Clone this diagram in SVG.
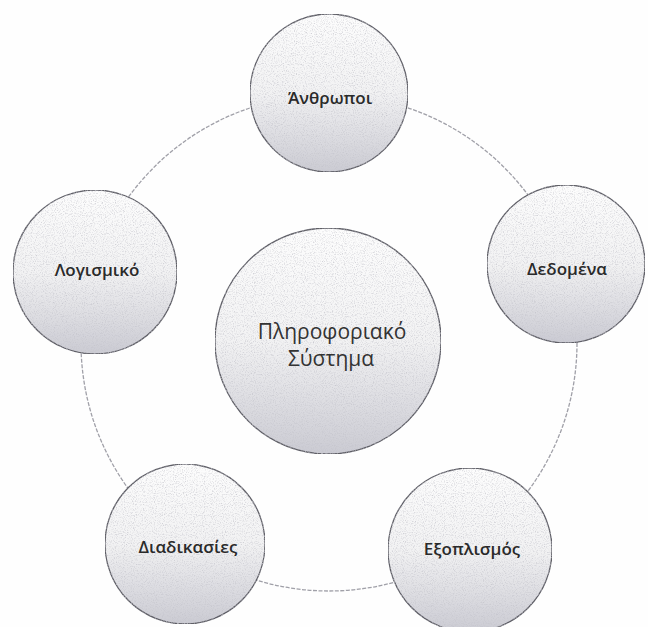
<svg xmlns="http://www.w3.org/2000/svg" width="648" height="627" viewBox="0 0 648 627">
<defs>
<linearGradient id="g" x1="0" y1="0" x2="0" y2="1">
<stop offset="0" stop-color="#fdfdfd"/>
<stop offset="0.5" stop-color="#f2f2f3"/>
<stop offset="1" stop-color="#cbcbd3"/>
</linearGradient>
<filter id="grain" x="0" y="0" width="100%" height="100%">
<feTurbulence type="fractalNoise" baseFrequency="0.9" numOctaves="2" seed="3" result="n"/>
<feColorMatrix in="n" type="matrix" values="0 0 0 0 0.55  0 0 0 0 0.55  0 0 0 0 0.6  0 0 0 -2 1.05" result="m"/>
<feComposite in="m" in2="SourceGraphic" operator="in" result="c"/>
<feMerge><feMergeNode in="SourceGraphic"/><feMergeNode in="c"/></feMerge>
</filter>
</defs>
<style>
.node{fill:url(#g);stroke:#5e5e66;stroke-width:1.3;filter:url(#grain)}
.lbl{font-family:"Open Sans","DejaVu Sans",sans-serif;font-size:17px;fill:#2a2a2a;text-anchor:middle;font-weight:600}
.ctr{font-family:"Open Sans","DejaVu Sans",sans-serif;font-size:21px;fill:#333;text-anchor:middle}
.ring{fill:none;stroke:#a0a0a8;stroke-width:1.3;stroke-dasharray:4 1.5}
</style>
<rect width="648" height="627" fill="#fefefe"/>
<g id="connectors">
<circle class="ring" cx="329" cy="343" r="248"/>
</g>
<g id="center">
<circle class="node" cx="328" cy="341" r="113"/>
<text class="ctr" x="332" y="339">Πληροφοριακό</text>
<text class="ctr" x="331" y="366">Σύστημα</text>
</g>
<g id="anthropoi">
<circle class="node" cx="329" cy="93" r="79"/>
<text class="lbl" x="330" y="104">Άνθρωποι</text>
</g>
<g id="dedomena">
<circle class="node" cx="566" cy="264" r="79"/>
<text class="lbl" x="567" y="275">Δεδομένα</text>
</g>
<g id="logismiko">
<circle class="node" cx="95" cy="272" r="82"/>
<text class="lbl" x="97" y="276">Λογισμικό</text>
</g>
<g id="diadikasies">
<circle class="node" cx="185" cy="544" r="80"/>
<text class="lbl" x="188" y="553">Διαδικασίες</text>
</g>
<g id="exoplismos">
<circle class="node" cx="470" cy="550" r="82"/>
<text class="lbl" x="472" y="555">Εξοπλισμός</text>
</g>
</svg>
